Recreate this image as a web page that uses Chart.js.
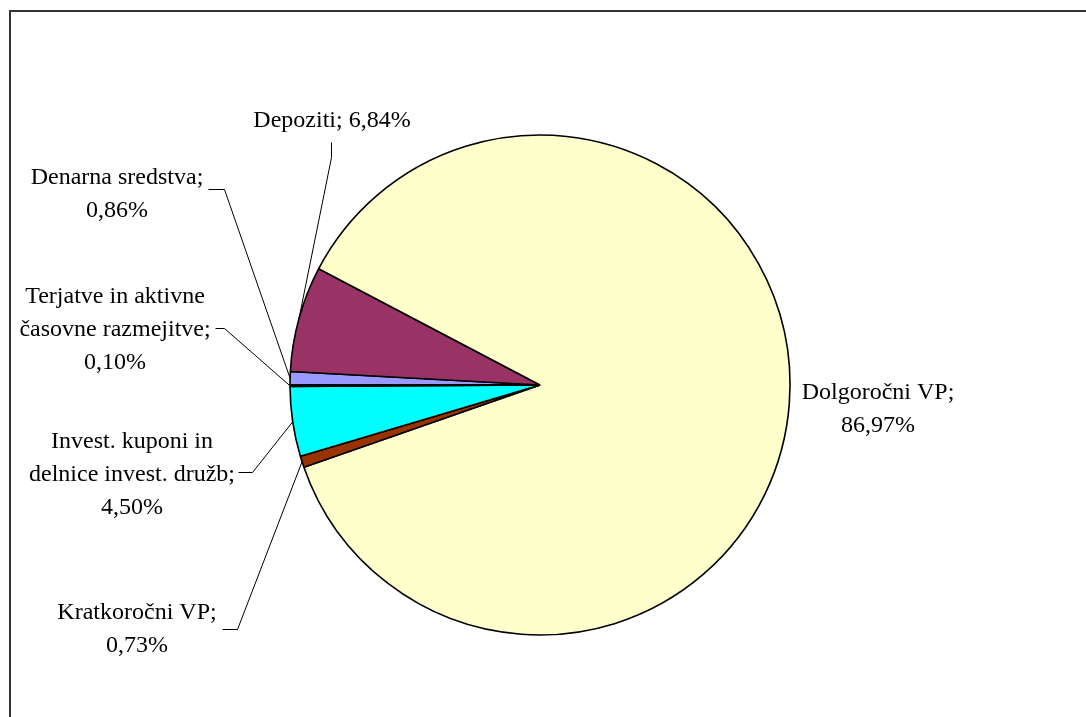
<!DOCTYPE html>
<html>
<head>
<meta charset="utf-8">
<script src="https://cdn.jsdelivr.net/npm/chart.js@4"></script>
<style>
  html, body { margin: 0; padding: 0; background: #fff; }
  #wrap { width: 1086px; height: 717px; }
</style>
</head>
<body>
<div id="wrap"><canvas id="myChart" width="1086" height="717"></canvas></div>
<script>
// data, in the order the slices go round clockwise from 9 o'clock
const categories = [
    'Denarna sredstva',
    'Depoziti',
    'Dolgoročni VP',
    'Kratkoročni VP',
    'Invest. kuponi in delnice invest. družb',
    'Terjatve in aktivne časovne razmejitve'
];
const shares = [0.86, 6.84, 86.97, 0.73, 4.50, 0.10];
const sliceColors = ['#9999FF', '#993366', '#FFFFCC', '#993300', '#00FFFF', '#FF8080'];

// how each label is broken into lines (value gets appended)
const labelLines = [
    ['Denarna sredstva;'],
    ['Depoziti;'],
    ['Dolgoročni VP;'],
    ['Kratkoročni VP;'],
    ['Invest. kuponi in', 'delnice invest. družb;'],
    ['Terjatve in aktivne', 'časovne razmejitve;']
];

// label placement (page pixels), leader line start + elbow
const labelLayout = [
    { x: 117, y: 178, inline: false, line: [[208, 189], [224, 189]] },
    { x: 332, y: 121, inline: true,  line: [[331, 142], [331, 157]] },
    { x: 878, y: 393, inline: false, line: null },
    { x: 137, y: 613, inline: false, line: [[222, 629], [237, 629]] },
    { x: 132, y: 442, inline: false, line: [[238, 472], [252, 472]] },
    { x: 115, y: 297, inline: false, line: [[215, 328], [224, 328]] }
];
const lineGap = 33;

function fmtPct(v) {
    return v.toFixed(2).replace('.', ',') + '%';
}

const calloutPlugin = {
    id: 'callouts',
    beforeDraw(chart) {
        const c = chart.ctx;
        c.save();
        c.fillStyle = '#fff';
        c.fillRect(0, 0, chart.width, chart.height);
        c.strokeStyle = '#333';
        c.lineWidth = 2;
        c.strokeRect(10, 11, 1200, 800);
        c.restore();
    },
    afterDatasetsDraw(chart) {
        const c = chart.ctx;
        const meta = chart.getDatasetMeta(0);
        c.save();
        c.font = "24px 'Liberation Serif', 'Times New Roman', serif";
        c.fillStyle = '#000';
        c.textAlign = 'center';
        c.textBaseline = 'middle';
        c.strokeStyle = '#000';
        c.lineWidth = 1;

        meta.data.forEach((arc, i) => {
            const p = arc.getProps(['x', 'y', 'startAngle', 'endAngle', 'outerRadius'], true);
            const lay = labelLayout[i];
            let lines = labelLines[i].slice();
            if (lay.inline) {
                lines[lines.length - 1] += ' ' + fmtPct(shares[i]);
            } else {
                lines.push(fmtPct(shares[i]));
            }
            lines.forEach((t, k) => {
                c.fillText(t, lay.x, lay.y + k * lineGap);
            });

            if (lay.line) {
                const mid = (p.startAngle + p.endAngle) / 2;
                const ex = p.x + Math.cos(mid) * p.outerRadius;
                const ey = p.y + Math.sin(mid) * p.outerRadius;
                c.beginPath();
                c.moveTo(lay.line[0][0] + 0.5, lay.line[0][1] + 0.5);
                c.lineTo(lay.line[1][0] + 0.5, lay.line[1][1] + 0.5);
                c.lineTo(ex, ey);
                c.stroke();
            }
        });
        c.restore();
    }
};

const ctx = document.getElementById('myChart');

const pieChart = new Chart(ctx, {
    type: 'pie',
    data: {
        labels: categories,
        datasets: [{
            data: shares,
            backgroundColor: sliceColors,
            borderColor: '#000',
            borderWidth: 1.6,
            borderJoinStyle: 'bevel',
            radius: 250
        }]
    },
    options: {
        responsive: false,
        animation: false,
        devicePixelRatio: 1,
        rotation: 270,
        layout: {
            padding: { left: 290, right: 296, top: 135, bottom: 82 }
        },
        plugins: {
            legend: { display: false },
            tooltip: { enabled: false }
        }
    },
    plugins: [calloutPlugin]
});
</script>
</body>
</html>
